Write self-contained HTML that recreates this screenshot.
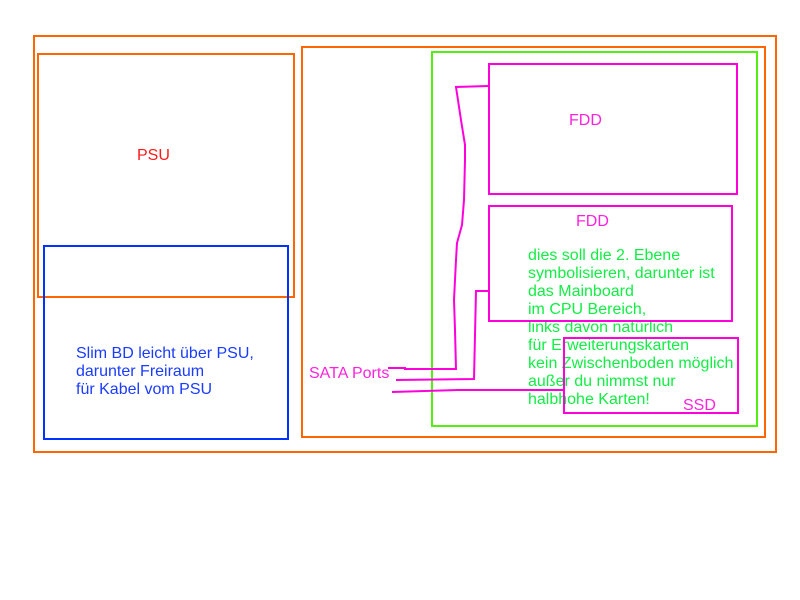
<!DOCTYPE html>
<html><head><meta charset="utf-8"><style>
html,body{margin:0;padding:0;background:#fff;width:800px;height:600px;overflow:hidden}
svg text{font-family:"Liberation Sans",Arial,sans-serif;font-size:16px}
</style></head><body>
<svg width="800" height="600" xmlns="http://www.w3.org/2000/svg">
<g fill="none" stroke-width="2">
<rect x="34" y="36" width="742" height="416" stroke="#ff6600"/>
<rect x="38" y="54" width="256" height="243" stroke="#ff6600"/>
<rect x="302" y="47" width="463" height="390" stroke="#ff6600"/>
<rect x="432" y="52" width="325" height="374" stroke="#55ee11"/>
<rect x="44" y="246" width="244" height="193" stroke="#0033ff"/>
</g>
<text x="137" y="160" fill="#ff1a1a">PSU</text>
<text fill="#1a3cff"><tspan x="76" y="358">Slim BD leicht über PSU,</tspan><tspan x="76" y="376">darunter Freiraum</tspan><tspan x="76" y="394">für Kabel vom PSU</tspan></text>
<text x="309" y="378" fill="#ff22dd">SATA Ports</text>
<text x="569" y="125" fill="#ff22dd">FDD</text>
<text x="576" y="226" fill="#ff22dd">FDD</text>
<text x="683" y="410" fill="#ff22dd">SSD</text>
<text fill="#11ee44"><tspan x="528" y="260">dies soll die 2. Ebene</tspan><tspan x="528" y="278">symbolisieren, darunter ist</tspan><tspan x="528" y="296">das Mainboard</tspan><tspan x="528" y="314">im CPU Bereich,</tspan><tspan x="528" y="332">links davon natürlich</tspan><tspan x="528" y="350">für Erweiterungskarten</tspan><tspan x="528" y="368">kein Zwischenboden möglich</tspan><tspan x="528" y="386">außer du nimmst nur</tspan><tspan x="528" y="404">halbhohe Karten!</tspan></text>
<g fill="none" stroke="#ff00dd" stroke-width="2">
<rect x="489" y="64" width="248" height="130"/>
<rect x="489" y="206" width="243" height="115"/>
<rect x="564" y="338" width="174" height="75"/>
<polyline points="388,368 405,368 405,369 456,369 455,330 454,300 456,260 457,243 462,225 464,200 465,160 465,145 461,120 456,87 488,86"/>
<polyline points="396,380 474,379 476,291 489,291"/>
<polyline points="392,392 425,391 458,390 564,390"/>
</g>
</svg>
</body></html>
